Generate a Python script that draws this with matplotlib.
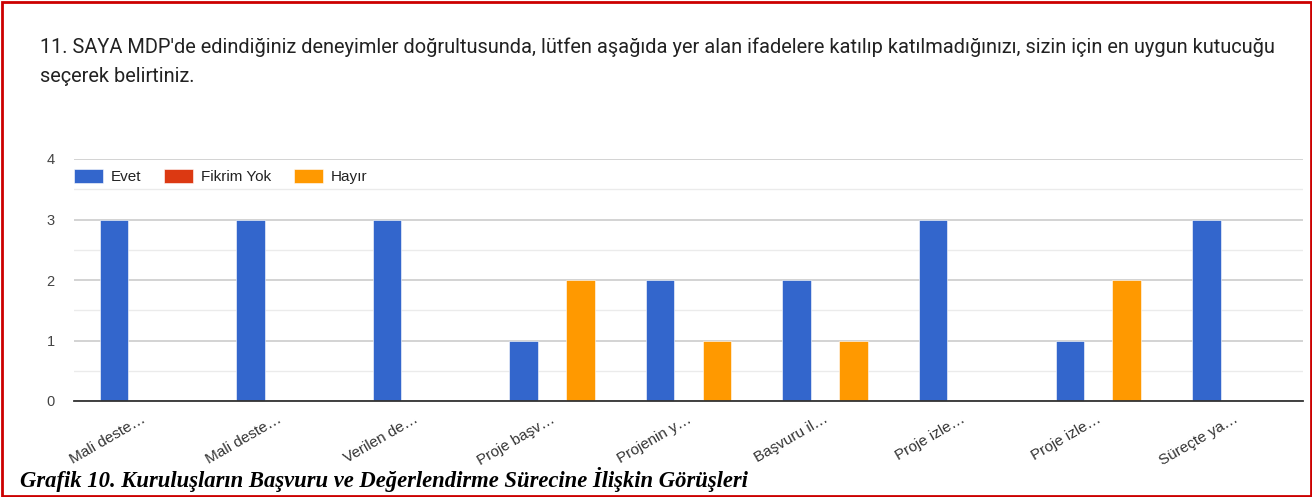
import numpy as np
import matplotlib
matplotlib.use("Agg")
import matplotlib.pyplot as plt
from matplotlib.patches import Rectangle

categories = ["Mali deste…", "Mali deste…", "Verilen de…", "Proje başv…", "Projenin y…",
              "Başvuru il…", "Proje izle…", "Proje izle…", "Süreçte ya…"]
evet = [3, 3, 3, 1, 2, 2, 3, 1, 3]
fikrim_yok = [0, 0, 0, 0, 0, 0, 0, 0, 0]
hayir = [0, 0, 0, 2, 1, 1, 0, 2, 0]
series_names = ["Evet", "Fikrim Yok", "Hayır"]
colors = ["#3366CC", "#DC3912", "#FF9900"]

title_lines = ["11. SAYA MDP'de edindiğiniz deneyimler doğrultusunda, lütfen aşağıda yer alan ifadelere "
               "katılıp katılmadığınızı, sizin için en uygun kutucuğu",
               "seçerek belirtiniz."]
caption = "Grafik 10. Kuruluşların Başvuru ve Değerlendirme Sürecine İlişkin Görüşleri"

W, H = 1312, 497
fig = plt.figure(figsize=(W/100, H/100), dpi=100)
ax = fig.add_axes([74/W, (H-401)/H, (1303-74)/W, 242/H])

x = np.arange(len(categories))
bw = 0.208
for i, (vals, name, c) in enumerate(zip([evet, fikrim_yok, hayir], series_names, colors)):
    ax.bar(x + (i-1)*bw, vals, bw, color=c, label=name, zorder=3,
           edgecolor="white", linewidth=0.4)

ax.set_xlim(-0.5, len(categories)-0.5)
ax.set_ylim(0, 4)
ax.set_yticks([0, 1, 2, 3, 4])
ax.set_yticks(np.arange(0.5, 4, 1), minor=True)
ax.grid(axis="y", which="major", color="#cccccc", linewidth=1.2, zorder=0)
ax.grid(axis="y", which="minor", color="#ebebeb", linewidth=1.0, zorder=0)
for s in ["top", "right", "left"]:
    ax.spines[s].set_visible(False)
ax.spines["bottom"].set_color("#333333")
ax.spines["bottom"].set_linewidth(1.3)
ax.spines["bottom"].set_zorder(4)
ax.tick_params(axis="y", which="both", length=0, pad=14, labelsize=10.5, labelcolor="#444444")
ax.tick_params(axis="x", length=0, pad=8)
ax.set_xticks(x - 0.01)
ax.set_xticklabels(categories, rotation=30, ha="right", rotation_mode="anchor",
                   fontsize=11, color="#333333", family="Liberation Sans")
for lab in ax.get_yticklabels():
    lab.set_family("Liberation Sans")

ax.legend(loc="upper left", bbox_to_anchor=(-0.011, 1.016), ncol=3, frameon=False,
          handlelength=1.9, handleheight=1.0, handletextpad=0.5, columnspacing=1.5,
          prop={"family": "Liberation Sans", "size": 11}, labelcolor="#222222")

for k, line in enumerate(title_lines):
    fig.text(40/W, 1-(47+30*k)/H, line, fontsize=14.4, family="Roboto", color="#222222",
             va="center")
fig.text(20/W, 1-480/H, caption, fontsize=16.3, family="Liberation Serif",
         style="italic", weight="bold", color="black", va="center")

fig.patches.append(Rectangle((1.5/W, 1.5/H), 1-3/W, 1-3/H, transform=fig.transFigure,
                             fill=False, edgecolor="#CC0000", linewidth=2))

fig.savefig("out.png", dpi=100)
